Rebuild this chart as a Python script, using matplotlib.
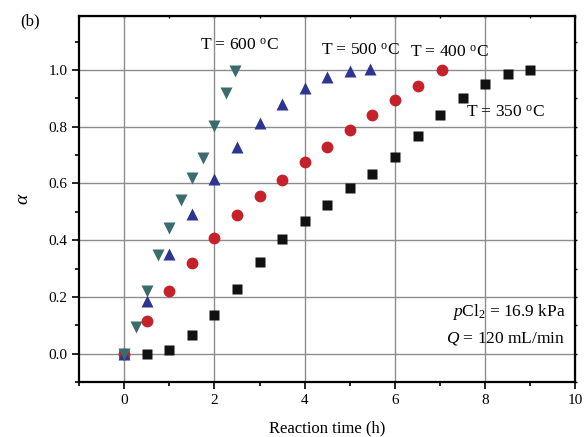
import numpy as np
import matplotlib
matplotlib.use("Agg")
import matplotlib.pyplot as plt
from matplotlib.ticker import MultipleLocator

plt.rcParams["font.family"] = "Liberation Serif"
plt.rcParams["mathtext.fontset"] = "custom"
plt.rcParams["mathtext.rm"] = "Liberation Serif"
plt.rcParams["mathtext.it"] = "Liberation Serif:italic"

# 350 C
t_350 = [0, 0.5, 1, 1.5, 2, 2.5, 3, 3.5, 4, 4.5, 5, 5.5, 6, 6.5, 7, 7.5, 8, 8.5, 9]
a_350 = [0.0, -0.002, 0.014, 0.064, 0.135, 0.227, 0.322, 0.404, 0.469, 0.524,
         0.584, 0.635, 0.694, 0.768, 0.840, 0.901, 0.952, 0.987, 0.999]
# 400 C
t_400 = [0, 0.5, 1, 1.5, 2, 2.5, 3, 3.5, 4, 4.5, 5, 5.5, 6, 6.5, 7.05]
a_400 = [0.0, 0.114, 0.222, 0.318, 0.406, 0.490, 0.556, 0.613, 0.674, 0.730,
         0.788, 0.841, 0.894, 0.943, 0.999]
# 500 C
t_500 = [0, 0.5, 1, 1.5, 2, 2.5, 3, 3.5, 4, 4.5, 5, 5.45]
a_500 = [0.0, 0.185, 0.350, 0.494, 0.617, 0.729, 0.812, 0.880, 0.935, 0.974,
         0.996, 1.003]
# 600 C
t_600 = [0, 0.25, 0.5, 0.75, 1, 1.25, 1.5, 1.75, 2, 2.25, 2.45]
a_600 = [0.0, 0.093, 0.222, 0.346, 0.443, 0.540, 0.620, 0.690, 0.802, 0.918, 0.996]

fig = plt.figure(figsize=(5.86, 4.37), dpi=100)
ax = fig.add_axes([0.135, 0.126, 0.847, 0.837])

ax.plot(t_350, a_350, "s", color="#111111", ms=7, mec="none", zorder=3)
ax.plot(t_400, a_400, "o", color="#c4212b", ms=8.5, mec="none", zorder=3)
ax.plot(t_500, a_500, "^", color="#2e3591", ms=9, mec="none", zorder=3)
ax.plot(t_600, a_600, "v", color="#3b6b6c", ms=9, mec="none", zorder=3)

ax.set_xlim(-1, 10)
ax.set_ylim(-0.1, 1.19)
ax.xaxis.set_major_locator(MultipleLocator(2))
ax.xaxis.set_minor_locator(MultipleLocator(1))
ax.yaxis.set_major_locator(MultipleLocator(0.2))
ax.yaxis.set_minor_locator(MultipleLocator(0.1))
ax.yaxis.set_major_formatter(matplotlib.ticker.FormatStrFormatter("%.1f"))
ax.grid(True, which="major", color="#8c8c8c", linewidth=1.0)
ax.set_axisbelow(True)

for s in ax.spines.values():
    s.set_linewidth(1.6)
ax.tick_params(which="both", direction="out", labelsize=11, width=1.2)
ax.tick_params(which="major", length=5)
ax.tick_params(which="minor", length=3)

# tiny marks on top and right edges
axt = ax.secondary_xaxis("top")
axt.xaxis.set_major_locator(MultipleLocator(1))
axt.tick_params(direction="in", length=1.5, width=1, labeltop=False)
axr = ax.secondary_yaxis("right")
axr.yaxis.set_major_locator(MultipleLocator(0.1))
axr.tick_params(direction="out", length=1.5, width=1, labelright=False)

ax.set_xlabel("Reaction time (h)", fontsize=12, labelpad=10)
ax.set_ylabel(r"$\alpha$", fontsize=14, labelpad=12)

tsize = 12.5
ax.text(1.67, 1.085, r"T = 600 $^{\mathrm{o}}$C", fontsize=tsize, va="center")
ax.text(4.37, 1.07, r"T = 500 $^{\mathrm{o}}$C", fontsize=tsize, va="center")
ax.text(6.33, 1.06, r"T = 400 $^{\mathrm{o}}$C", fontsize=tsize, va="center")
ax.text(7.57, 0.85, r"T = 350 $^{\mathrm{o}}$C", fontsize=tsize, va="center")
ax.text(9.78, 0.148, r"$p$Cl$_2$ = 16.9 kPa", fontsize=tsize, va="center", ha="right")
ax.text(9.78, 0.053, r"$Q$ = 120 mL/min", fontsize=tsize, va="center", ha="right")

fig.text(0.034, 0.95, "(b)", fontsize=12, va="center")

fig.savefig("out.png", dpi=100)
